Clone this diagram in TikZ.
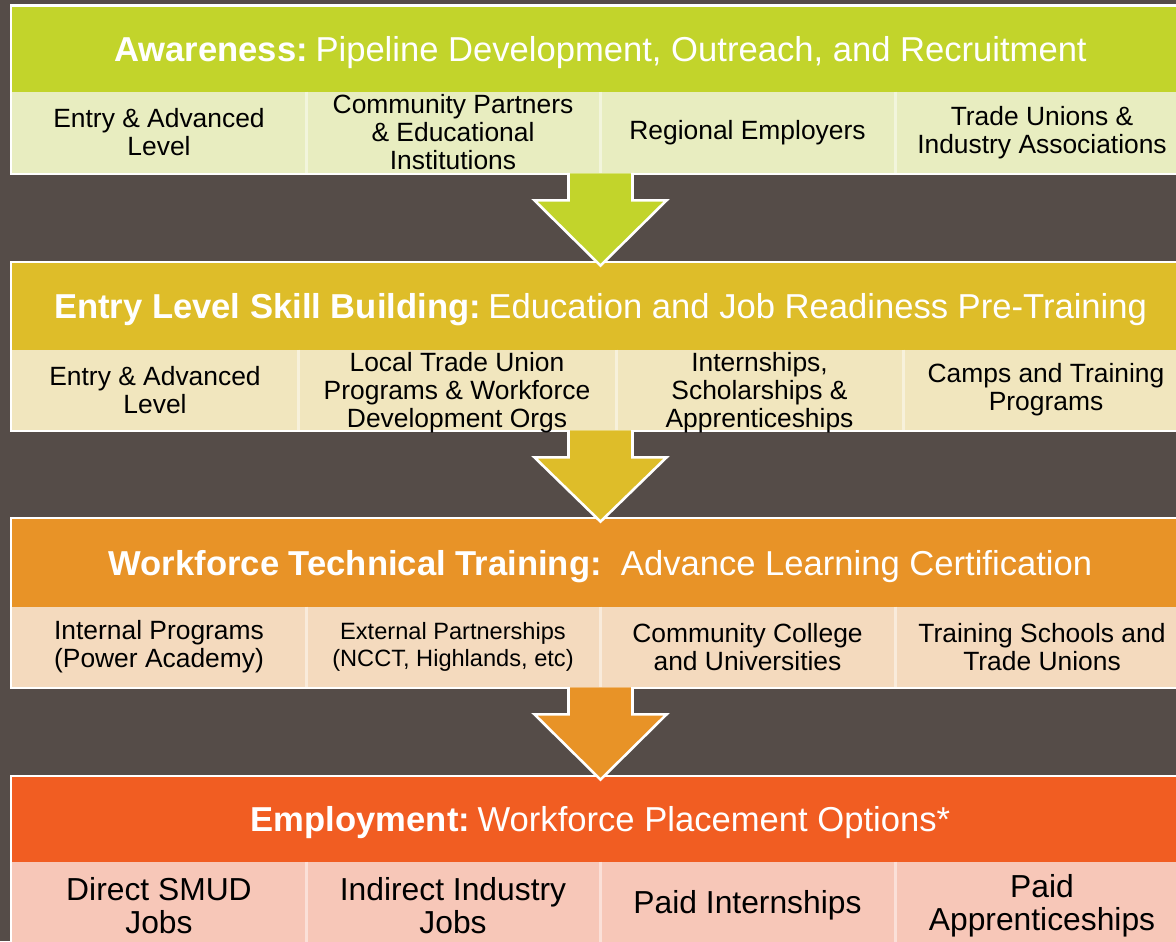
\documentclass[tikz,border=0pt]{standalone}
\usepackage{fontspec}
\setmainfont{Liberation Sans}
\usetikzlibrary{fit,calc}
\definecolor{bgc}{HTML}{554C48}
\definecolor{gH}{HTML}{C2D42B}
\definecolor{gL}{HTML}{E8EDC0}
\definecolor{yH}{HTML}{DEBD29}
\definecolor{yL}{HTML}{F1E6BE}
\definecolor{oH}{HTML}{E89327}
\definecolor{oL}{HTML}{F4DABE}
\definecolor{rH}{HTML}{F15D22}
\definecolor{rL}{HTML}{F7C7B8}
\tikzset{
  frame/.style={fill=white, inner sep=0pt, draw=none},
  box/.style={fill=#1, inner sep=0pt, draw=none},
  headtext/.style={inner sep=0pt, text=white, anchor=center,
     font=\fontsize{17.3pt}{19pt}\selectfont, text height=12.4pt, text depth=0pt},
  celltext/.style={inner sep=0pt, align=center, text=black, anchor=center,
     font=\fontsize{13.2pt}{14pt}\selectfont},
  bigtext/.style={inner sep=0pt, align=center, text=black, anchor=center,
     font=\fontsize{15.9pt}{16.6pt}\selectfont, yshift=-1.5pt},
  divider/.style={draw=white!45!#1, line width=1.5pt},
  arrowfill/.style={fill=#1, draw=none},
  arrowline/.style={draw=white, line width=1.3pt, line join=miter},
}
\newcommand\flowarrow[3]{%
  \fill[arrowfill=#3] let \p1=(#1.south), \p2=(#2.north) in
    (\x1-16pt,\y1) -- (\x1-16pt,\y1-13.5pt) -- (\x1-33pt,\y1-13.5pt) --
    (\x1,\y2-1.5pt) -- (\x1+33pt,\y1-13.5pt) -- (\x1+16pt,\y1-13.5pt) --
    (\x1+16pt,\y1) -- cycle;
  \draw[arrowline] let \p1=(#1.south), \p2=(#2.north) in
    (\x1-16pt,\y1+0.2pt) -- (\x1-16pt,\y1-13.5pt) -- (\x1-33pt,\y1-13.5pt) --
    (\x1,\y2-1.5pt) -- (\x1+33pt,\y1-13.5pt) -- (\x1+16pt,\y1-13.5pt) --
    (\x1+16pt,\y1+0.2pt);
}
\begin{document}
\begin{tikzpicture}[x=0.5pt,y=-0.5pt]
\useasboundingbox (0,0) rectangle (1176,941);
\clip (0,0) rectangle (1176,941);
\fill[bgc] (0,0) rectangle (1176,941);

% ---------- Band 1 ----------
\node[frame, fit={(10,4.5)(1195,175)}] (b1) {};
\node[box=gH, fit={(12,7)(1189,92)}] (h1) {};
\node[box=gL, fit={(12,92)(1189,173)}] (r1) {};
\node[box=gL, fit={(12,92)(306,173)}] (c11) {};
\node[box=gL, fit={(306,92)(600,173)}] (c12) {};
\node[box=gL, fit={(600,92)(895,173)}] (c13) {};
\node[box=gL, fit={(895,92)(1189,173)}] (c14) {};
\draw[divider=gL] (c11.north east) -- (c11.south east);
\draw[divider=gL] (c12.north east) -- (c12.south east);
\draw[divider=gL] (c13.north east) -- (c13.south east);
\node[headtext] (t1) at (h1.center) {\textbf{Awareness:}\hspace{0.22em}Pipeline Development, Outreach, and Recruitment};
\node[celltext] (t11) at (c11.center) {Entry \& Advanced\\Level};
\node[celltext] (t12) at (c12.center) {Community Partners\\\& Educational\\Institutions};
\node[celltext] (t13) at (c13.center) {Regional Employers};
\node[celltext] (t14) at (c14.center) {Trade Unions \&\\Industry Associations};

% ---------- Band 2 ----------
\node[frame, fit={(10,260.5)(1195,432)}] (b2) {};
\node[box=yH, fit={(12,263)(1189,350)}] (h2) {};
\node[box=yL, fit={(12,350)(1189,430)}] (r2) {};
\node[box=yL, fit={(12,350)(298,430)}] (c21) {};
\node[box=yL, fit={(298,350)(616,430)}] (c22) {};
\node[box=yL, fit={(616,350)(903,430)}] (c23) {};
\node[box=yL, fit={(903,350)(1189,430)}] (c24) {};
\draw[divider=yL] (c21.north east) -- (c21.south east);
\draw[divider=yL] (c22.north east) -- (c22.south east);
\draw[divider=yL] (c23.north east) -- (c23.south east);
\node[headtext] (t2) at (h2.center) {\textbf{Entry Level Skill Building:}\hspace{0.22em}Education and Job Readiness Pre-Training};
\node[celltext] (t21) at (c21.center) {Entry \& Advanced\\Level};
\node[celltext, yshift=-1.5pt] (t22) at (c22.center) {Local Trade Union\\Programs \& Workforce\\Development Orgs};
\node[celltext, yshift=-1.5pt] (t23) at (c23.center) {Internships,\\Scholarships \&\\Apprenticeships};
\node[celltext] (t24) at (c24.center) {Camps and Training\\Programs};

% ---------- Band 3 ----------
\node[frame, fit={(10,516.5)(1195,689)}] (b3) {};
\node[box=oH, fit={(12,519)(1189,607)}] (h3) {};
\node[box=oL, fit={(12,607)(1189,687)}] (r3) {};
\node[box=oL, fit={(12,607)(306,687)}] (c31) {};
\node[box=oL, fit={(306,607)(600,687)}] (c32) {};
\node[box=oL, fit={(600,607)(895,687)}] (c33) {};
\node[box=oL, fit={(895,607)(1189,687)}] (c34) {};
\draw[divider=oL] (c31.north east) -- (c31.south east);
\draw[divider=oL] (c32.north east) -- (c32.south east);
\draw[divider=oL] (c33.north east) -- (c33.south east);
\node[headtext] (t3) at (h3.center) {\textbf{Workforce Technical Training:}\hspace{0.56em}Advance Learning Certification};
\node[celltext] (t31) at (c31.center) {Internal Programs\\(Power Academy)};
\node[celltext, font=\fontsize{11.8pt}{13.8pt}\selectfont] (t32) at (c32.center) {External Partnerships\\(NCCT, Highlands, etc)};
\node[celltext] (t33) at (c33.center) {Community College\\and Universities};
\node[celltext] (t34) at (c34.center) {Training Schools and\\Trade Unions};

% ---------- Band 4 ----------
\node[frame, fit={(10,774.5)(1195,950)}] (b4) {};
\node[box=rH, fit={(12,777)(1189,862)}] (h4) {};
\node[box=rL, fit={(12,862)(306,943)}] (c41) {};
\node[box=rL, fit={(306,862)(600,943)}] (c42) {};
\node[box=rL, fit={(600,862)(895,943)}] (c43) {};
\node[box=rL, fit={(895,862)(1189,943)}] (c44) {};
\draw[divider=rL] (c41.north east) -- (c41.south east);
\draw[divider=rL] (c42.north east) -- (c42.south east);
\draw[divider=rL] (c43.north east) -- (c43.south east);
\node[headtext] (t4) at (h4.center) {\textbf{Employment:}\hspace{0.22em}Workforce Placement Options*};
\node[bigtext] (t41) at (c41.center) {Direct SMUD\\Jobs};
\node[bigtext] (t42) at (c42.center) {Indirect Industry\\Jobs};
\node[bigtext] (t43) at (c43.center) {Paid Internships};
\node[bigtext] (t44) at (c44.center) {Paid\\Apprenticeships};

% ---------- Arrows ----------
\flowarrow{r1}{h2}{gH}
\flowarrow{r2}{h3}{yH}
\flowarrow{r3}{h4}{oH}
\end{tikzpicture}
\end{document}
